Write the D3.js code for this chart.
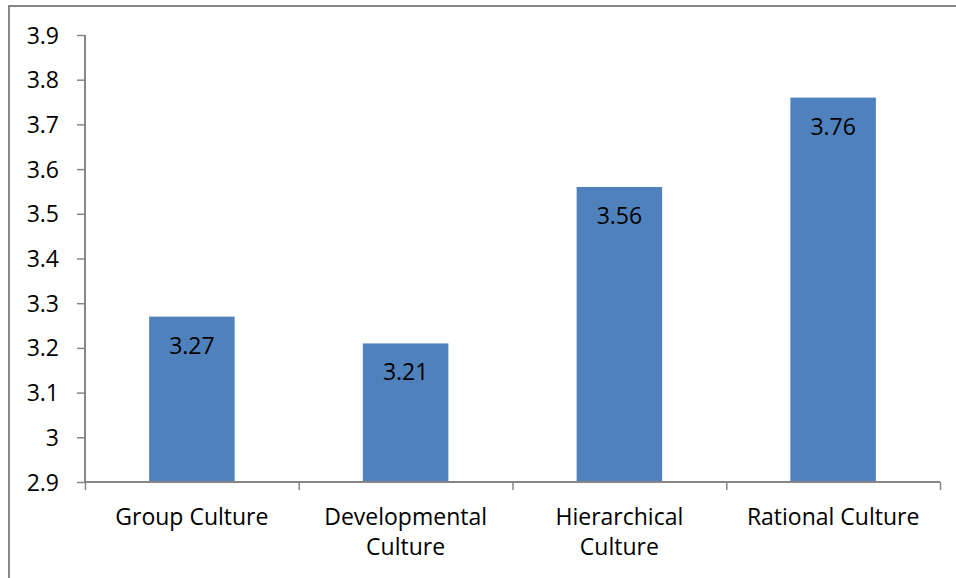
<!DOCTYPE html>
<html>
<head>
<meta charset="utf-8">
<script src="https://cdn.jsdelivr.net/npm/d3@7"></script>
<style>
    body { margin: 0; background: #fff; }
    svg text { font-family: "Open Sans", sans-serif; fill: #000; }
</style>
</head>
<body>
<div id="chart"></div>
<script>
// Chart data
const categories = ["Group Culture", "Developmental Culture", "Hierarchical Culture", "Rational Culture"];
const values = [3.27, 3.21, 3.56, 3.76];
const yTicks = [2.9, 3, 3.1, 3.2, 3.3, 3.4, 3.5, 3.6, 3.7, 3.8, 3.9];

const width = 956, height = 578;
const margin = {top: 35, right: 16, bottom: 96, left: 85};
const axisColor = "#868686";

const svg = d3.select("#chart").append("svg")
    .attr("width", width)
    .attr("height", height);

// Outer frame (only top and left edges show in the picture)
svg.append("path")
    .attr("d", `M9,${height} L9,6 L${width},6`)
    .attr("fill", "none")
    .attr("stroke", "#878787")
    .attr("stroke-width", 2);

const chart = svg.append("g")
    .attr("transform", `translate(${margin.left},${margin.top})`);

const innerW = width - margin.left - margin.right;
const innerH = 482 - margin.top;

const xScale = d3.scaleBand()
    .domain(categories)
    .range([0, innerW])
    .paddingInner(0.6)
    .paddingOuter(0.3);

const yScale = d3.scaleLinear()
    .domain([2.9, 3.9])
    .range([innerH, 0]);

// Y axis
const yAxis = chart.append("g")
    .call(d3.axisLeft(yScale).tickValues(yTicks).tickSize(8).tickPadding(18)
        .tickFormat((d) => d3.format("~g")(d)));
yAxis.selectAll("text").style("font-size", "23px").attr("dy", "0.35em");
yAxis.selectAll("line").attr("stroke", axisColor).attr("stroke-width", 1.5);
yAxis.select(".domain").attr("stroke", axisColor).attr("stroke-width", 2).attr("d", `M0,0V${innerH}`);

// Bars
chart.selectAll(".bar")
    .data(values)
    .join("rect")
        .attr("class", "bar")
        .attr("x", (d, i) => xScale(categories[i]))
        .attr("y", (d) => yScale(d))
        .attr("width", xScale.bandwidth())
        .attr("height", (d) => innerH - yScale(d))
        .attr("fill", "#4F81BD");

// Value labels inside bars
chart.selectAll(".value")
    .data(values)
    .join("text")
        .attr("class", "value")
        .text((d) => d3.format(".2f")(d))
        .attr("x", (d, i) => xScale(categories[i]) + xScale.bandwidth() / 2)
        .attr("y", (d) => yScale(d) + 37)
        .style("text-anchor", "middle")
        .style("font-size", "23px");

// X axis: line and ticks at category boundaries
const boundary = d3.scaleLinear().domain([0, categories.length]).range([0, innerW]);
const xAxis = chart.append("g")
    .attr("transform", `translate(0,${innerH})`)
    .call(d3.axisBottom(boundary).ticks(categories.length).tickSize(8).tickFormat(""));
xAxis.selectAll("line").attr("stroke", axisColor).attr("stroke-width", 1.5);
xAxis.select(".domain").attr("stroke", axisColor).attr("stroke-width", 2).attr("d", `M0,0H${innerW}`);

// Category labels, wrapped when too wide
const labels = chart.selectAll(".cat")
    .data(categories)
    .join("text")
        .attr("class", "cat")
        .attr("x", (d) => xScale(d) + xScale.bandwidth() / 2)
        .attr("y", innerH + 43)
        .style("text-anchor", "middle")
        .style("font-size", "23px");

labels.each(function(d) {
    const t = d3.select(this);
    t.text(d);
    if (this.getComputedTextLength() > 200) {
        const words = d.split(" ");
        const x = t.attr("x");
        t.text("");
        t.append("tspan").attr("x", x).text(words.slice(0, -1).join(" "));
        t.append("tspan").attr("x", x).attr("dy", 30).text(words[words.length - 1]);
    }
});
</script>
</body>
</html>
